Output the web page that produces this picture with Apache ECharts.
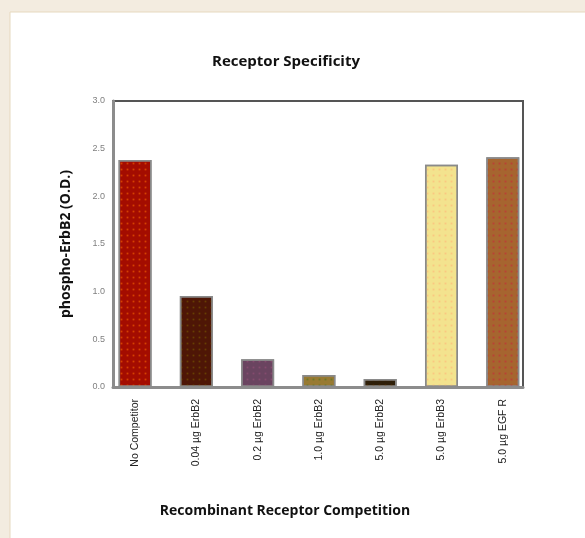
<!DOCTYPE html>
<html>
<head>
<meta charset="utf-8">
<script src="https://cdn.jsdelivr.net/npm/echarts@6/dist/echarts.min.js"></script>
<style>
html,body{margin:0;padding:0;background:#f3ece0;}
#c{width:585px;height:538px;}
</style>
</head>
<body>
<div id="c"></div>
<script>
const categories = ['No Competitor','0.04 \u00b5g ErbB2','0.2 \u00b5g ErbB2','1.0 \u00b5g ErbB2','5.0 \u00b5g ErbB2','5.0 \u00b5g ErbB3','5.0 \u00b5g EGF R'];
const values = [2.38, 0.955, 0.29, 0.125, 0.085, 2.33, 2.41];
const yTicks = [0, 0.5, 1.0, 1.5, 2.0, 2.5, 3.0];

const colors = ['#a30c00','#4e1606','#6a4460','#987a32','#2e1e08','#f3e38e','#a6652f'];
const dotColors = ['rgba(255,110,0,0.55)','rgba(120,90,0,0.6)','rgba(150,80,120,0.6)','rgba(60,120,30,0.5)','rgba(110,60,0,0.6)','rgba(255,180,120,0.6)','rgba(200,40,60,0.6)'];

const chart = echarts.init(document.getElementById('c'), null, {renderer:'canvas'});
chart.setOption({
  backgroundColor: '#f3ece0',
  animation: false,
  graphic: [{
    type: 'rect', z: -10, silent: true,
    shape: {x: 10, y: 12, width: 600, height: 560},
    style: {fill: '#ffffff', stroke: '#e6d9bf', lineWidth: 1}
  }],
  title: [{
    text: 'Receptor Specificity',
    left: 281, top: 49, textAlign: 'center',
    textStyle: {fontFamily: 'Open Sans', fontSize: 15, fontWeight: 'bold', color: '#111'}
  }, {
    text: 'Recombinant Receptor Competition',
    left: 280, top: 499, textAlign: 'center',
    textStyle: {fontFamily: 'Open Sans', fontSize: 14, fontWeight: 'bold', color: '#111'}
  }],
  grid: {left: 113, right: 62, top: 101, bottom: 151, show: true, borderColor: '#555', borderWidth: 2, backgroundColor: 'transparent'},
  xAxis: {
    type: 'value', min: -0.36, max: 6.33,
    axisLine: {show: true, onZero: false, lineStyle: {color: '#8c8c8c', width: 3}},
    axisTick: {show: false},
    splitLine: {show: false},
    axisLabel: {
      customValues: categories.map((c, i) => i),
      formatter: v => categories[v] !== undefined ? categories[v] : '',
      rotate: 90, margin: 12, fontSize: 10.5, color: '#222', fontFamily: 'Liberation Sans'
    }
  },
  yAxis: {
    type: 'value', min: yTicks[0], max: yTicks[yTicks.length - 1], interval: 0.5,
    name: 'phospho-ErbB2 (O.D.)', nameLocation: 'middle', nameGap: 40, nameRotate: 90,
    nameTextStyle: {fontFamily: 'Open Sans', fontSize: 14, fontWeight: 'bold', color: '#111'},
    axisLine: {show: true, onZero: false, lineStyle: {color: '#8c8c8c', width: 3}},
    axisTick: {show: false},
    splitLine: {show: false},
    axisLabel: {formatter: v => v.toFixed(1), fontSize: 9, color: '#808080', margin: 8, fontFamily: 'Liberation Sans'}
  },
  series: [{
    type: 'bar',
    barWidth: 33,
    data: values.map((v, i) => ({
      value: [i, v],
      itemStyle: {
        color: colors[i],
        borderColor: '#8a8a8a', borderWidth: 1.5,
        decal: {symbol: 'rect', symbolSize: 0.6, dashArrayX: [[3, 3]], dashArrayY: [3, 3], color: dotColors[i]}
      }
    }))
  }]
});
</script>
</body>
</html>
